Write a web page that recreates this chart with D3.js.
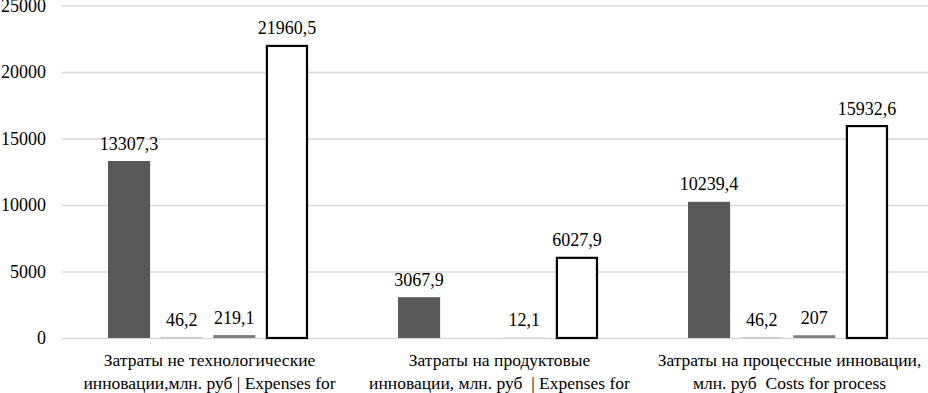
<!DOCTYPE html>
<html>
<head>
<meta charset="utf-8">
<script src="https://cdn.jsdelivr.net/npm/d3@7"></script>
<style>
  svg text { font-family: 'Liberation Serif', 'Times New Roman', Tinos !important; }
</style>
</head>
<body style="margin:0;background:#fff">
<svg id="chart" width="928" height="393"></svg>
<script>
const categories = ["c1", "c2", "c3"];
const categoryLines = [
  ["Затраты не технологические", "инновации,млн. руб | Expenses for"],
  ["Затраты на продуктовые", "инновации, млн. руб  | Expenses for"],
  ["Затраты на процессные инновации,", "млн. руб  Costs for process"]
];
const seriesNames = ["s1", "s2", "s3", "s4"];
const s1Values = [13307.3, 3067.9, 10239.4];
const s2Values = [46.2, null, 46.2];
const s3Values = [219.1, 12.1, 207];
const s4Values = [21960.5, 6027.9, 15932.6];
const yTicks = [0, 5000, 10000, 15000, 20000, 25000];

const seriesValues = [s1Values, s2Values, s3Values, s4Values];
const fills = ["#595959", "#a6a6a6", "#7f7f7f", "#ffffff"];
const strokes = ["none", "none", "none", "#000"];
const FONT = "'Liberation Serif'";

const svg = d3.select("#chart");
const x0 = d3.scaleBand().domain(categories).range([62.5, 932.5]);
const x1 = d3.scaleBand().domain(seriesNames).range([45.5, 245.5]).paddingInner(0.2);
const y = d3.scaleLinear().domain([0, 25000]).range([338, 5.5]);

// gridlines
const yAxis = d3.axisLeft(y).tickValues(yTicks).tickSize(-866).tickPadding(16)
  .tickFormat(d => String(d));
const gy = svg.append("g").attr("transform", "translate(62,0)").call(yAxis);
gy.attr("font-family", null).attr("font-size", null);
gy.select(".domain").remove();
gy.selectAll(".tick line").attr("stroke", "#d9d9d9").attr("stroke-width", 1.3);
gy.selectAll(".tick text").style("font-family", FONT).attr("font-size", 18)
  .attr("fill", "#000").attr("dy", "0.33em");

const fmt = v => String(v).replace(".", ",");

const data = [];
categories.forEach((c, ci) => {
  seriesNames.forEach((s, si) => {
    const v = seriesValues[si][ci];
    if (v != null) data.push({c, s, si, v});
  });
});

g = svg.append("g");
g.selectAll("rect").data(data).join("rect")
  .attr("x", d => x0(d.c) + x1(d.s) + (d.si === 3 ? 1 : 0))
  .attr("width", d => x1.bandwidth() - (d.si === 3 ? 2 : 0))
  .attr("y", d => y(d.v))
  .attr("height", d => y(0) - y(d.v))
  .attr("fill", d => fills[d.si])
  .attr("stroke", d => strokes[d.si])
  .attr("stroke-width", 2.2);

data.forEach(d => {
  svg.append("text")
    .attr("x", x0(d.c) + x1(d.s) + x1.bandwidth() / 2)
    .attr("y", y(d.v) - 11.5)
    .attr("text-anchor", "middle")
    .style("font-family", FONT)
    .attr("font-size", 18)
    .attr("fill", "#000")
    .text(fmt(d.v));
});

// category labels
categories.forEach((c, ci) => {
  const cx = x0(c) + x0.bandwidth() / 2 + 2;
  categoryLines[ci].forEach((line, li) => {
    svg.append("text")
      .attr("x", cx)
      .attr("y", 366 + li * 23)
      .attr("text-anchor", "middle")
      .style("font-family", FONT)
      .attr("font-size", 17.5)
      .attr("xml:space", "preserve")
      .attr("fill", "#000")
      .text(line);
  });
});
</script>
</body>
</html>
